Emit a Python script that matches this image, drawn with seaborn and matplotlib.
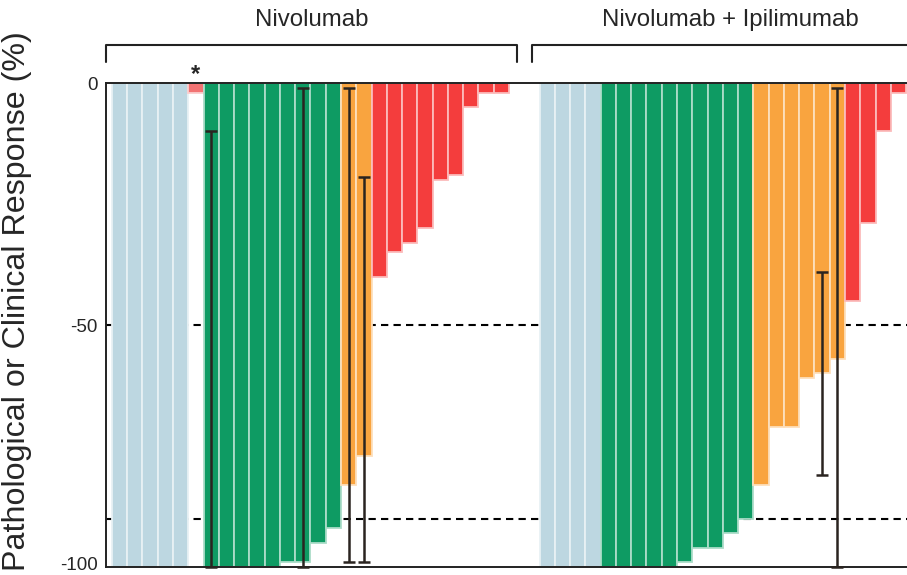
import numpy as np
import pandas as pd
import matplotlib
matplotlib.use("Agg")
import matplotlib.pyplot as plt
import matplotlib.transforms as mtransforms
import seaborn as sns

sns.set_theme(style="white")
plt.rcParams['font.family'] = ['Liberation Sans', 'DejaVu Sans']

# ---------------- data ----------------
group_names = ["Nivolumab", "Nivolumab + Ipilimumab"]

nivo_cat = ["NE", "NE", "NE", "NE", "NE",
            "NR*",
            "pCR", "pCR", "pCR", "pCR", "pCR", "pCR", "pCR", "pCR", "pCR",
            "MPR", "MPR",
            "NR", "NR", "NR", "NR", "NR", "NR", "NR", "NR", "NR"]
nivo_val = [-100, -100, -100, -100, -100,
            -2,
            -100, -100, -100, -100, -100, -99, -99, -95, -92,
            -83, -77,
            -40, -35, -33, -30, -20, -19, -5, -2, -2]

combo_cat = ["NE", "NE", "NE", "NE",
             "pCR", "pCR", "pCR", "pCR", "pCR", "pCR", "pCR", "pCR", "pCR", "pCR",
             "MPR", "MPR", "MPR", "MPR", "MPR", "MPR",
             "NR", "NR", "NR", "NR"]
combo_val = [-100, -100, -100, -100,
             -100, -100, -100, -100, -100, -99, -96, -96, -93, -90,
             -83, -71, -71, -61, -60, -57,
             -45, -29, -10, -2]

# error ranges (index within group, upper, lower)
nivo_err_idx = [6, 12, 15, 16]
nivo_err_hi = [-10, -1, -1, -19.5]
nivo_err_lo = [-100, -100, -99, -99]

combo_err_idx = [18, 19]
combo_err_hi = [-39, -1]
combo_err_lo = [-81, -100]

ref_lines = [-50, -90]
yticks = [0, -50, -100]

palette = {"NE": "#BDD7E1", "NR*": "#F27373", "pCR": "#0E9B63",
           "MPR": "#F9A43F", "NR": "#F43D3D"}

# ---------------- build table ----------------
gap = 2
offset2 = len(nivo_val) + gap
df = pd.concat([
    pd.DataFrame({"pos": np.arange(len(nivo_val)), "val": nivo_val,
                  "cat": nivo_cat, "group": group_names[0]}),
    pd.DataFrame({"pos": np.arange(len(combo_val)) + offset2, "val": combo_val,
                  "cat": combo_cat, "group": group_names[1]}),
], ignore_index=True)

err_pos = list(nivo_err_idx) + [i + offset2 for i in combo_err_idx]
err_hi = np.array(nivo_err_hi + combo_err_hi, dtype=float)
err_lo = np.array(nivo_err_lo + combo_err_lo, dtype=float)

# ---------------- figure ----------------
fig = plt.figure(figsize=(9.07, 5.75), dpi=100)
ax = fig.add_axes([106 / 907, 8 / 575, (907 - 106) / 907, 484 / 575])

for yl in ref_lines:
    ax.axhline(yl, color="black", lw=1.5, ls=(0, (3.5, 2.5)), zorder=0.5)

sns.barplot(data=df, x="pos", y="val", hue="cat", palette=palette,
            native_scale=True, dodge=False, width=1.0, saturation=1,
            errorbar=None, legend=False, ax=ax, zorder=1)

for p in ax.patches:
    fc = np.array(p.get_facecolor()[:3])
    p.set_edgecolor(tuple(fc * 0.35 + 0.65))
    p.set_linewidth(1.3)

ax.errorbar(err_pos, (err_hi + err_lo) / 2, yerr=(err_hi - err_lo) / 2,
            fmt="none", ecolor="#2a2420", elinewidth=1.8, capsize=4,
            capthick=1.8, zorder=4, clip_on=False)

ax.set_xlim(-0.89, 51.56)
ax.set_ylim(-100, 0)
ax.set_yticks(yticks)
ax.set_yticklabels([str(t) for t in yticks], fontsize=13.5)
ax.tick_params(axis="y", length=0, pad=6)
ax.set_xticks([])
ax.set_xlabel("")
ax.set_ylabel("Pathological or Clinical Response (%)", fontsize=23.2)
ax.yaxis.set_label_coords(-0.092, 0.55)

# nudge the bottom tick label up slightly so it stays inside the canvas
shift = mtransforms.ScaledTranslation(0, 3 / 100, fig.dpi_scale_trans)
for lab in ax.get_yticklabels():
    if lab.get_text() == str(yticks[-1]):
        lab.set_transform(lab.get_transform() + shift)

for s in ["left", "bottom", "top"]:
    ax.spines[s].set_visible(True)
    ax.spines[s].set_color("#222222")
    ax.spines[s].set_linewidth(1.4)
ax.spines["right"].set_visible(False)

# brackets and group labels
trans = ax.get_xaxis_transform()
brackets = [(-0.89, len(nivo_val) + 0.02), (offset2 - 1.0, offset2 + 25.0)]
for (x0, x1), name in zip(brackets, group_names):
    ax.plot([x0, x0, x1, x1], [1.043, 1.0785, 1.0785, 1.043], color="#222222",
            lw=1.5, transform=trans, clip_on=False)
    ax.text((x0 + x1) / 2, 1.131, name, transform=trans, ha="center",
            va="center", fontsize=17.3)

# asterisk over the pink bar
star_pos = nivo_cat.index("NR*")
ax.text(star_pos, 1.018, "*", transform=trans, ha="center", va="center",
        fontsize=17, fontweight="bold")

fig.savefig("out.png", dpi=100)
